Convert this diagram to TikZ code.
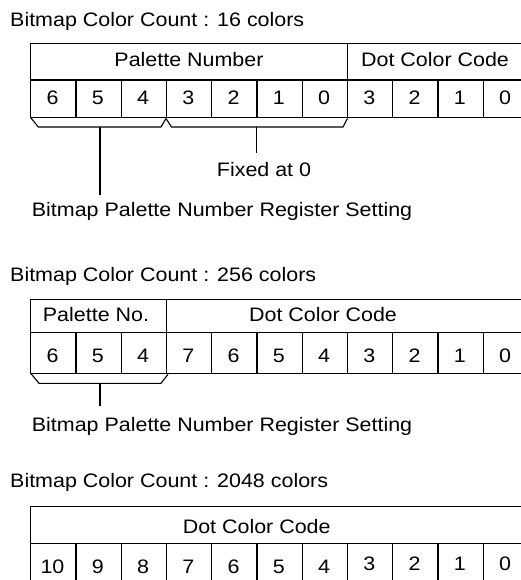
\documentclass[tikz,border=0pt]{standalone}
\usepackage{fontspec}
\setmainfont[FakeStretch=1.1]{Liberation Sans}
\begin{document}
\begin{tikzpicture}[x=1pt,y=-1pt,
  grid/.style={line width=1.2pt, line cap=rect},
  brace/.style={line width=1.1pt, line join=miter},
  stem/.style={line width=1.1pt},
  txt/.style={inner sep=0pt, anchor=base, font=\fontsize{19.5}{23}\selectfont},
  lbl/.style={inner sep=0pt, anchor=base west, font=\fontsize{19.5}{23}\selectfont}]
\useasboundingbox (0,0) rectangle (521,580);
\clip (0,0) rectangle (521,580);
\def\xo{30.7}
\def\cw{45.26}
% ---------- Section 1: 16 colors ----------
\node[lbl] (title1) at (10,26.5) {Bitmap Color Count : 16 colors};
\draw[grid] (528.6,43.3) -- (\xo,43.3) -- (\xo,117.7) -- (528.6,117.7);
\draw[grid] (\xo,80) -- (528.6,80);
\foreach \k in {1,...,10} \draw[grid] ({\xo+\cw*\k},80) -- ({\xo+\cw*\k},117.7);
\draw[grid] ({\xo+\cw*7},43.3) -- ({\xo+\cw*7},80);
\node[txt] (h1a) at (189,66.7) {Palette Number};
\node[txt] (h1b) at (435,66.7) {Dot Color Code};
\foreach \d [count=\k from 0] in {6,5,4,3,2,1,0,3,2,1,0}
  \node[txt] (d1-\k) at ({\xo+\cw*\k+21.8},105) {\d};
\draw[brace] (\xo,117.7) -- (38.3,127) -- (161,127) -- (166,118.5) -- (171.5,127) -- (343,127) -- (347.5,118.3);
\coordinate (b1a) at (100,127);
\coordinate (e1a) at (100,195);
\coordinate (b1b) at (256.7,127);
\coordinate (e1b) at (256.7,153.3);
\draw[stem] (b1a) -- (e1a);
\draw[stem] (b1b) -- (e1b);
\node[txt] (fixed) at (264,176) {Fixed at 0};
\node[lbl] (reg1) at (31.7,216) {Bitmap Palette Number Register Setting};
% ---------- Section 2: 256 colors ----------
\node[lbl] (title2) at (10,281.7) {Bitmap Color Count : 256 colors};
\draw[grid] (528.6,299.3) -- (\xo,299.3) -- (\xo,373.3) -- (528.6,373.3);
\draw[grid] (\xo,332.7) -- (528.6,332.7);
\foreach \k in {1,...,10} \draw[grid] ({\xo+\cw*\k},332.7) -- ({\xo+\cw*\k},373.3);
\draw[grid] ({\xo+\cw*3},299.3) -- ({\xo+\cw*3},332.7);
\node[txt] (h2a) at (96,321.7) {Palette No.};
\node[txt] (h2b) at (323,321.7) {Dot Color Code};
\foreach \d [count=\k from 0] in {6,5,4,7,6,5,4,3,2,1,0}
  \node[txt] (d2-\k) at ({\xo+\cw*\k+21.8},362.7) {\d};
\draw[brace] (\xo,373.3) -- (39,383.3) -- (161,383.3) -- (168,374.3);
\coordinate (b2a) at (100,383.3);
\coordinate (e2a) at (100,405.7);
\draw[stem] (b2a) -- (e2a);
\node[lbl] (reg2) at (31.7,431.7) {Bitmap Palette Number Register Setting};
% ---------- Section 3: 2048 colors ----------
\node[lbl] (title3) at (10,487.3) {Bitmap Color Count : 2048 colors};
\draw[grid] (528.6,506.7) -- (\xo,506.7) -- (\xo,595);
\draw[grid] (\xo,543.3) -- (528.6,543.3);
\foreach \k in {1,...,10} \draw[grid] ({\xo+\cw*\k},543.3) -- ({\xo+\cw*\k},595);
\node[txt] (h3) at (256.7,533.3) {Dot Color Code};
\foreach \d [count=\k from 0] in {10,9,8,7,6,5,4}
  \node[txt] (d3-\k) at ({\xo+\cw*\k+21.8},573.3) {\d};
\foreach \d [count=\k from 7] in {3,2,1,0}
  \node[txt] (d3-\k) at ({\xo+\cw*\k+21.8},570) {\d};
\end{tikzpicture}
\end{document}
